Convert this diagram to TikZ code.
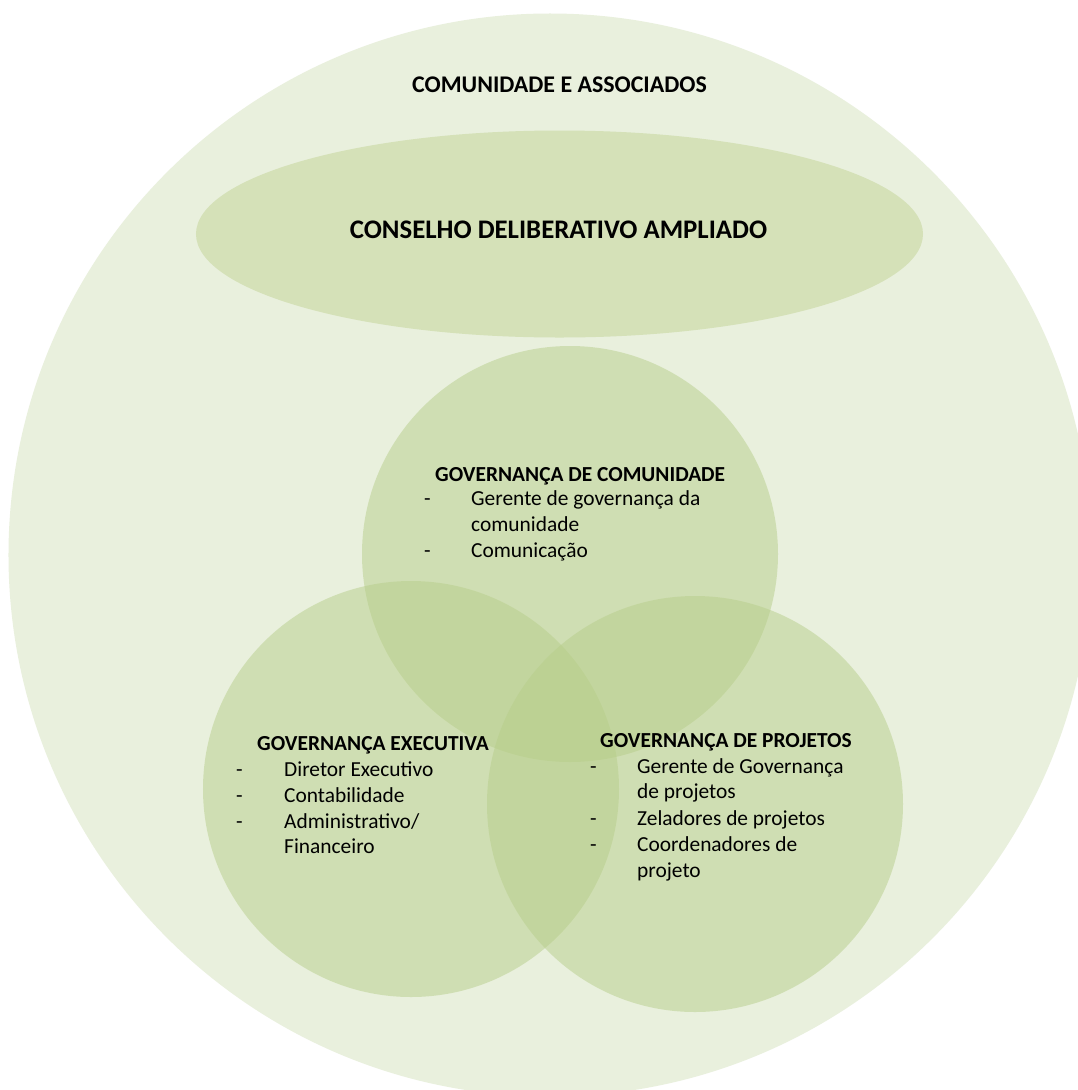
\documentclass[tikz,border=0pt]{standalone}
\usepackage{fontspec}
\setmainfont{Carlito}
\usetikzlibrary{shapes.geometric}
\definecolor{outerfill}{RGB}{233,240,221}
\definecolor{ovalfill}{RGB}{213,225,184}
\definecolor{vennfill}{RGB}{183,206,138}
\tikzset{
  outercircle/.style={fill=outerfill, draw=none},
  oval/.style={fill=ovalfill, draw=none},
  venn/.style={fill=vennfill, fill opacity=0.5, draw=none},
  titletext/.style={inner sep=0, anchor=base, font=\bfseries\fontsize{23.9bp}{28bp}\selectfont},
  bigtitle/.style={inner sep=0, anchor=base, font=\bfseries\fontsize{26.8bp}{31bp}\selectfont},
  headtext/.style={inner sep=0, anchor=base west, font=\bfseries\fontsize{21.4bp}{25bp}\selectfont},
  itemtext/.style={inner sep=0, anchor=base west, font=\fontsize{21.4bp}{25bp}\selectfont},
}
\begin{document}
\begin{tikzpicture}[x=1bp,y=-1bp]
\useasboundingbox (0,0) rectangle (1078,1090);
\clip (0,0) rectangle (1078,1090);
\fill[white] (0,0) rectangle (1078,1090);
% outer circle
\path[outercircle] (550,555) circle[radius=541.5bp];
\coordinate (outerc) at (550,555);
% ellipse
\path[oval] (559.5,234) ellipse[x radius=363.5bp, y radius=103.5bp];
% venn circles
\path[venn] (570,554) circle[radius=208bp];
\path[venn] (411,789) circle[radius=208bp];
\path[venn] (695,804) circle[radius=208bp];
% titles
\node[titletext] (comunidade) at (559.5,92) {COMUNIDADE E ASSOCIADOS};
\node[bigtitle] (conselho) at (558.5,238) {CONSELHO DELIBERATIVO AMPLIADO};
% top circle text
\node[headtext] (gc) at (435,481) {GOVERNANÇA DE COMUNIDADE};
\node[itemtext] (gcd1) at (424,505) {-};
\node[itemtext] (gc1) at (471,505) {Gerente de governança da};
\node[itemtext] (gc2) at (471,531) {comunidade};
\node[itemtext] (gcd2) at (424,557) {-};
\node[itemtext] (gc3) at (471,557) {Comunicação};
% left circle text
\node[headtext] (ge) at (257,750) {GOVERNANÇA EXECUTIVA};
\node[itemtext] (ged1) at (236,776) {-};
\node[itemtext] (ge1) at (284,776) {Diretor Executivo};
\node[itemtext] (ged2) at (236,802) {-};
\node[itemtext] (ge2) at (284,802) {Contabilidade};
\node[itemtext] (ged3) at (236,828) {-};
\node[itemtext] (ge3) at (284,828) {Administrativo/};
\node[itemtext] (ge4) at (284,853) {Financeiro};
% right circle text
\node[headtext] (gp) at (600,747) {GOVERNANÇA DE PROJETOS};
\node[itemtext] (gpd1) at (590,773) {-};
\node[itemtext] (gp1) at (637,773) {Gerente de Governança};
\node[itemtext] (gp2) at (637,798) {de projetos};
\node[itemtext] (gpd2) at (590,825) {-};
\node[itemtext] (gp3) at (637,825) {Zeladores de projetos};
\node[itemtext] (gpd3) at (590,851) {-};
\node[itemtext] (gp4) at (637,851) {Coordenadores de};
\node[itemtext] (gp5) at (637,877) {projeto};
\end{tikzpicture}
\end{document}
